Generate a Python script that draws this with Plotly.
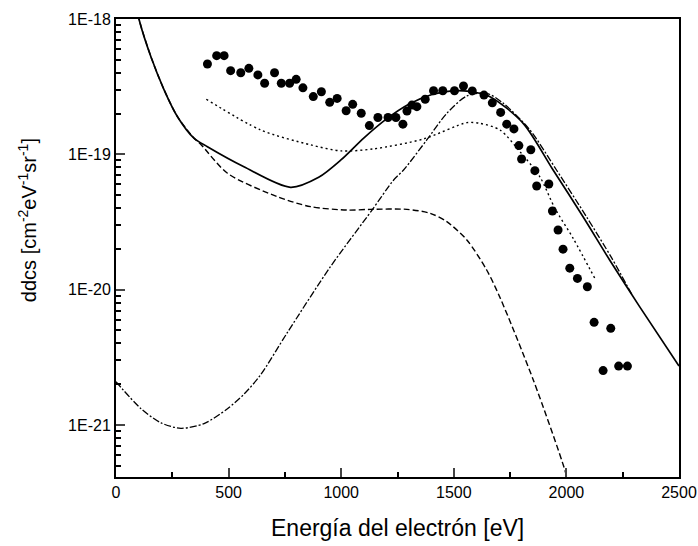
import plotly.graph_objects as go

# ---- experimental points (eV, ddcs) ----
exp_x = [406, 447, 480, 509, 554, 590, 630, 660, 704, 734, 771, 800, 830, 876, 912, 949,
         982, 1022, 1051, 1089, 1125, 1163, 1208, 1243, 1274, 1292, 1314, 1336, 1373, 1410,
         1451, 1503, 1543, 1582, 1634, 1671, 1708, 1735, 1767, 1789, 1801, 1842, 1860, 1868,
         1922, 1938, 1963, 1985, 2015, 2049, 2093, 2123, 2163, 2197, 2232, 2271]
exp_y = [4.65e-19, 5.36e-19, 5.36e-19, 4.15e-19, 4.01e-19, 4.32e-19, 3.86e-19, 3.35e-19,
         4.01e-19, 3.35e-19, 3.35e-19, 3.58e-19, 3.10e-19, 2.67e-19, 2.90e-19, 2.42e-19,
         2.59e-19, 2.10e-19, 2.34e-19, 2.01e-19, 1.63e-19, 1.87e-19, 1.87e-19, 1.87e-19,
         1.67e-19, 2.09e-19, 2.31e-19, 2.25e-19, 2.55e-19, 2.95e-19, 2.95e-19, 2.95e-19,
         3.20e-19, 2.94e-19, 2.74e-19, 2.40e-19, 2.04e-19, 1.67e-19, 1.54e-19, 1.16e-19,
         9.23e-20, 1.08e-19, 7.57e-20, 5.83e-20, 6.03e-20, 3.81e-20, 2.76e-20, 1.99e-20,
         1.44e-20, 1.21e-20, 1.05e-20, 5.73e-21, 2.52e-21, 5.17e-21, 2.72e-21, 2.72e-21]

# ---- total (solid) ----
tot_x = [90, 103, 155, 214, 273, 347, 406, 568, 775, 900, 1000, 1100, 1200, 1300, 1400,
         1500, 1570, 1661, 1808, 1941, 2074, 2192, 2325, 2500]
tot_logy = [-17.9, -18.007, -18.279, -18.525, -18.722, -18.882, -18.944, -19.092, -19.244,
            -19.17, -19.04, -18.88, -18.74, -18.63, -18.56, -18.53, -18.535, -18.574,
            -18.771, -19.116, -19.461, -19.781, -20.126, -20.565]

# ---- dashed component ----
dsh_x = [90, 103, 155, 214, 273, 347, 376, 495, 716, 864, 1026, 1129, 1292, 1395, 1469,
         1558, 1646, 1705, 1853, 1993, 2015]
dsh_logy = [-17.9, -18.007, -18.279, -18.525, -18.722, -18.882, -18.925, -19.140, -19.313,
            -19.387, -19.412, -19.407, -19.407, -19.436, -19.498, -19.633, -19.855, -20.058,
            -20.668, -21.333, -21.48]

# ---- dotted component ----
dot_x = [401, 642, 864, 1000, 1144, 1365, 1558, 1616, 1705, 1794, 1882, 1949, 2030, 2130]
dot_logy = [-18.593, -18.820, -18.930, -18.975, -18.960, -18.887, -18.766, -18.771, -18.820,
            -18.981, -19.166, -19.399, -19.621, -19.929]

# ---- dash-dot component ----
dd_x = [0, 111, 200, 288, 391, 495, 570, 642, 760, 952, 1137, 1233, 1277, 1380, 1469, 1558,
        1646, 1720, 1838, 1956, 2089, 2201, 2294]
dd_logy = [-20.681, -20.880, -20.985, -21.025, -20.990, -20.880, -20.770, -20.630, -20.320,
           -19.831, -19.412, -19.190, -19.116, -18.894, -18.697, -18.569, -18.549, -18.623,
           -18.820, -19.116, -19.461, -19.766, -20.047]

ytick_vals = [1e-21, 1e-20, 1e-19, 1e-18]
ytick_text = ["1E-21", "1E-20", "1E-19", "1E-18"]
xtick_vals = [0, 500, 1000, 1500, 2000, 2500]


def pw(v):
    return [10 ** t for t in v]


fig = go.Figure()
line_common = dict(color="black", shape="spline", smoothing=0.8)
fig.add_trace(go.Scatter(x=dsh_x, y=pw(dsh_logy), mode="lines",
                         line=dict(width=1.4, dash="6px,3px", **line_common)))
fig.add_trace(go.Scatter(x=dot_x, y=pw(dot_logy), mode="lines",
                         line=dict(width=1.4, dash="2px,3px", **line_common)))
fig.add_trace(go.Scatter(x=dd_x, y=pw(dd_logy), mode="lines",
                         line=dict(width=1.3, dash="7px,2px,2px,2px", **line_common)))
fig.add_trace(go.Scatter(x=tot_x, y=pw(tot_logy), mode="lines",
                         line=dict(width=1.7, **line_common)))
fig.add_trace(go.Scatter(x=exp_x, y=exp_y, mode="markers",
                         marker=dict(color="black", size=9, symbol="circle")))

minor_y = []
for e in [-22, -21, -20, -19]:
    for m in range(2, 10):
        minor_y.append(m * 10 ** e)

font = "Arial, Liberation Sans, sans-serif"
fig.update_layout(
    width=698, height=546,
    margin=dict(l=116, r=18.5, t=19, b=69, autoexpand=False),
    paper_bgcolor="white", plot_bgcolor="white",
    showlegend=False,
    font=dict(family=font, size=16, color="black"),
    xaxis=dict(range=[0, 2500], tickvals=xtick_vals, ticks="inside", ticklen=9, tickwidth=1.5,
               showgrid=False, zeroline=False, showline=True, linewidth=2, linecolor="black",
               mirror=True, tickfont=dict(size=16), automargin=False,
               minor=dict(tickvals=[250, 750, 1250, 1750, 2250], ticks="inside", ticklen=5,
                          tickwidth=1.5, tickcolor="black")),
    yaxis=dict(type="log", range=[-21.385, -18], tickvals=ytick_vals, ticktext=ytick_text,
               ticks="inside", ticklen=9, tickwidth=1.5, automargin=False,
               showgrid=False, zeroline=False, showline=True, linewidth=2, linecolor="black",
               mirror=True, tickfont=dict(size=16),
               minor=dict(tickvals=minor_y, ticks="inside", ticklen=5, tickwidth=1.5,
                          tickcolor="black")),
    annotations=[
        dict(text="Energía del electrón [eV]", xref="paper", yref="paper", x=0.5, y=-0.112,
             xanchor="center", yanchor="middle", showarrow=False, font=dict(size=23)),
        dict(text="ddcs [cm<sup>-2</sup>eV<sup>-1</sup>sr<sup>-1</sup>]", xref="paper",
             yref="paper", x=-0.157, y=0.56, xanchor="center", yanchor="middle",
             textangle=-90, showarrow=False, font=dict(size=20)),
    ],
)

fig.write_html(
    "out.html",
    config={"displayModeBar": False},
    post_script="document.documentElement.style.margin='0';"
                "document.body.style.margin='0';"
                "document.body.style.overflow='hidden';",
)
